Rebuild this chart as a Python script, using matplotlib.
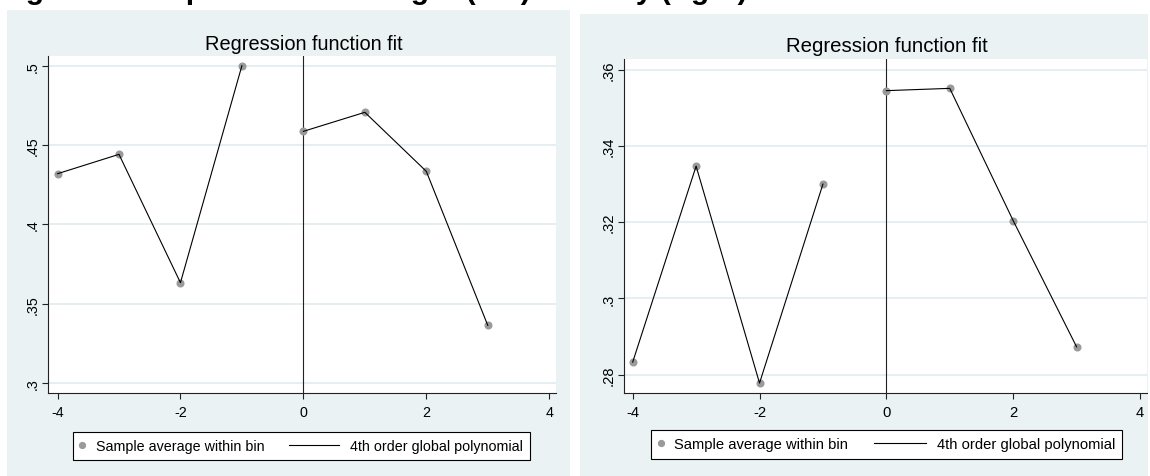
import numpy as np
import matplotlib
matplotlib.use("Agg")
import matplotlib.pyplot as plt
from matplotlib.lines import Line2D
from matplotlib.patches import Rectangle
from matplotlib.legend_handler import HandlerLine2D

plt.rcParams['font.family'] = ['Liberation Sans', 'DejaVu Sans']

# ---------------- data ----------------
bins_below = [-4, -3, -2, -1]
bins_above = [0, 1, 2, 3]

left_below = [0.4319, 0.4441, 0.3632, 0.5000]
left_above = [0.4586, 0.4706, 0.4334, 0.3363]

right_below = [0.2833, 0.3347, 0.2778, 0.3300]
right_above = [0.3545, 0.3551, 0.3204, 0.2873]

x_ticks = [-4, -2, 0, 2, 4]
x_ticklabels = ['-4', '-2', '0', '2', '4']
left_yticks = [0.30, 0.35, 0.40, 0.45, 0.50]
left_yticklabels = ['.3', '.35', '.4', '.45', '.5']
right_yticks = [0.28, 0.30, 0.32, 0.34, 0.36]
right_yticklabels = ['.28', '.3', '.32', '.34', '.36']

panel_title = 'Regression function fit'
legend_labels = ['Sample average within bin', '4th order global polynomial']
fig_title = 'Figure 3: RD plots for the height (left) and city (right)'

# ---------------- style ----------------
W, H = 1150, 477
BG = '#EAF2F3'
GRID = '#E0EBED'
MK = '#9A9A9A'
AXC = '#222222'

fig = plt.figure(figsize=(W / 100, H / 100), dpi=100)
fig.patch.set_facecolor('white')


def frac(x0, y0, x1, y1):
    """pixel box (top-based) -> [left, bottom, width, height] in figure fraction"""
    return [x0 / W, (H - y1) / H, (x1 - x0) / W, (y1 - y0) / H]


class LongLineHandler(HandlerLine2D):
    def __init__(self, length_em, **kw):
        super().__init__(**kw)
        self.length_em = length_em

    def get_xdata(self, legend, xdescent, ydescent, width, height, fontsize):
        xd = np.array([-xdescent + width - self.length_em * fontsize,
                       -xdescent + width])
        return xd, xd


def panel(bg_box, ax_box, below, above, yticks, yticklabels, xlim, ylim,
          fs, title_xy, title_fs, leg_center, colspace):
    l, b, w, h = frac(*bg_box)
    fig.add_artist(Rectangle((l, b), w, h, transform=fig.transFigure,
                             facecolor=BG, edgecolor='none', zorder=-5))
    ax = fig.add_axes(frac(*ax_box))
    ax.set_facecolor('white')
    ax.set_xlim(*xlim)
    ax.set_ylim(*ylim)
    ax.set_xticks(x_ticks)
    ax.set_xticklabels(x_ticklabels)
    ax.set_yticks(yticks)
    ax.set_yticklabels(yticklabels, rotation=90, va='center')
    ax.grid(axis='y', color=GRID, lw=1.2)
    ax.grid(axis='x', visible=False)
    ax.set_axisbelow(True)
    for s in ['top', 'right']:
        ax.spines[s].set_visible(False)
    for s in ['left', 'bottom']:
        ax.spines[s].set_color(AXC)
        ax.spines[s].set_linewidth(0.8)
    ax.tick_params(axis='both', direction='out', length=4, width=0.8,
                   color=AXC, labelsize=fs, labelcolor='black')
    ax.tick_params(axis='x', pad=4.5)
    ax.tick_params(axis='y', pad=2)

    ax.axvline(0, color=AXC, lw=0.8, zorder=2)

    ax.plot(bins_below, below, 'o', color=MK, ms=4.8, mec=MK, zorder=3)
    ax.plot(bins_above, above, 'o', color=MK, ms=4.8, mec=MK, zorder=3)
    ax.plot(bins_below, below, '-', color='black', lw=0.8, zorder=4)
    ax.plot(bins_above, above, '-', color='black', lw=0.8, zorder=4)

    fig.text(title_xy[0] / W, 1 - title_xy[1] / H, panel_title,
             ha='center', va='baseline', fontsize=title_fs)

    h_pt = Line2D([], [], marker='o', linestyle='None', color=MK, mec=MK, ms=4.2)
    h_ln = Line2D([], [], color='black', lw=0.8)
    leg = ax.legend([h_pt, h_ln], legend_labels, loc='center',
                    bbox_to_anchor=(leg_center[0] / W, 1 - leg_center[1] / H),
                    bbox_transform=fig.transFigure, ncol=2, frameon=True,
                    fancybox=False, framealpha=1, edgecolor='black',
                    borderpad=0.5, handlelength=0.35, handletextpad=0.75,
                    columnspacing=colspace, fontsize=fs, borderaxespad=0,
                    numpoints=1,
                    handler_map={h_ln: LongLineHandler(3.5)})
    leg.get_frame().set_linewidth(0.8)
    return ax


panel(bg_box=(7, 11, 570, 477), ax_box=(48.3, 57.3, 556, 394.3),
      below=left_below, above=left_above,
      yticks=left_yticks, yticklabels=left_yticklabels,
      xlim=(-4.15, 4.11), ylim=(0.2935, 0.5059),
      fs=10.3, title_xy=(303.5, 50), title_fs=14.4,
      leg_center=(301.5, 447), colspace=4.9)

panel(bg_box=(580, 15, 1148, 477), ax_box=(624, 60, 1147, 394),
      below=right_below, above=right_above,
      yticks=right_yticks, yticklabels=right_yticklabels,
      xlim=(-4.137, 4.11), ylim=(0.2752, 0.3628),
      fs=10.6, title_xy=(887, 52.3), title_fs=14.7,
      leg_center=(886.5, 445.5), colspace=4.9)

# figure caption: only its descenders fall inside the canvas, as in the reference
fig.text(-1 / W, 1 + 1 / H, fig_title, ha='left', va='baseline',
         fontsize=21.6, fontweight='bold')

fig.savefig('out.png', dpi=100, facecolor='white')
